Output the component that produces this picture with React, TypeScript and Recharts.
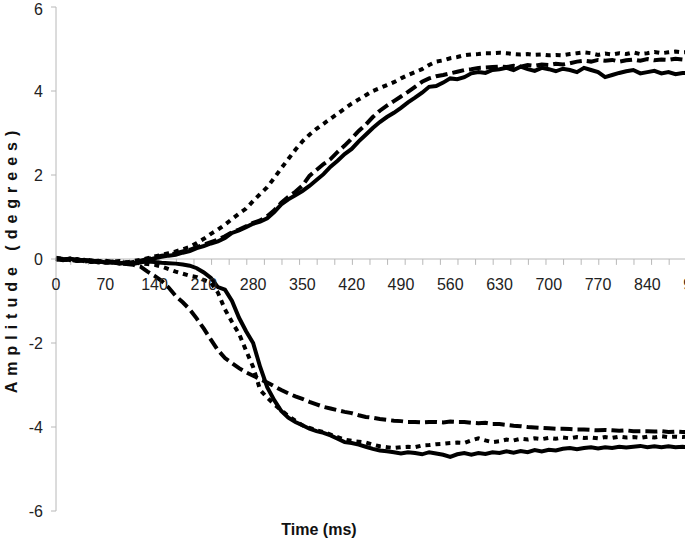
import React from "react";
import { LineChart, Line, XAxis, YAxis, ReferenceLine } from "recharts";

// time in ms, one sample every 10 ms
const times = Array.from({ length: 91 }, (_, i) => i * 10);

const upSolid = [
  0, -0.02, 0.01, -0.04, -0.03, -0.06, -0.04, -0.08, -0.06, -0.1,
  -0.08, -0.1, -0.06, -0.02, 0.02, 0.05, 0.08, 0.1, 0.15, 0.19,
  0.26, 0.31, 0.37, 0.42, 0.5, 0.62, 0.68, 0.76, 0.84, 0.89,
  0.97, 1.12, 1.3, 1.42, 1.52, 1.62, 1.74, 1.88, 2.02, 2.2,
  2.34, 2.5, 2.62, 2.8, 2.96, 3.12, 3.26, 3.38, 3.48, 3.6,
  3.73, 3.84, 3.96, 4.1, 4.12, 4.2, 4.3, 4.28, 4.33, 4.42,
  4.45, 4.43, 4.5, 4.52, 4.55, 4.5, 4.58, 4.52, 4.48, 4.55,
  4.52, 4.47, 4.53, 4.5, 4.45, 4.55, 4.5, 4.45, 4.33, 4.38,
  4.43, 4.47, 4.5, 4.42, 4.45, 4.48, 4.42, 4.45, 4.4, 4.43,
  4.42,
];

const upDashed = [
  0.02, -0.01, -0.03, 0, -0.05, -0.03, -0.07, -0.05, -0.09, -0.06,
  -0.1, -0.07, -0.04, 0, 0.04, 0.08, 0.1, 0.14, 0.18, 0.22,
  0.28, 0.34, 0.4, 0.46, 0.54, 0.64, 0.7, 0.78, 0.86, 0.92,
  1.02, 1.16, 1.34, 1.48, 1.6, 1.75, 1.98, 2.12, 2.26, 2.38,
  2.55, 2.7, 2.87, 3.05, 3.2, 3.38, 3.53, 3.65, 3.76, 3.87,
  3.98, 4.1, 4.22, 4.3, 4.35, 4.38, 4.42, 4.46, 4.5, 4.52,
  4.55, 4.56, 4.57, 4.58, 4.57, 4.6, 4.58, 4.62, 4.6, 4.63,
  4.62, 4.65, 4.63, 4.66, 4.7, 4.72, 4.7, 4.74, 4.72, 4.74,
  4.7, 4.73, 4.75, 4.72, 4.76, 4.73, 4.75, 4.74, 4.77, 4.75,
  4.76,
];

const upDotted = [
  0, 0.02, -0.02, -0.01, -0.04, -0.02, -0.06, -0.04, -0.07, -0.05,
  -0.08, -0.05, -0.02, 0.02, 0.06, 0.1, 0.14, 0.18, 0.23, 0.29,
  0.38, 0.48, 0.6, 0.7, 0.82, 0.95, 1.08, 1.2, 1.38, 1.55,
  1.71, 1.93, 2.16, 2.38, 2.6, 2.8, 2.96, 3.1, 3.22, 3.34,
  3.46, 3.58, 3.7, 3.8, 3.9, 4.0, 4.07, 4.14, 4.21, 4.3,
  4.38, 4.45, 4.52, 4.62, 4.7, 4.73, 4.78, 4.81, 4.85, 4.87,
  4.88, 4.9, 4.9, 4.91, 4.9, 4.88, 4.87, 4.88, 4.86, 4.87,
  4.85, 4.86, 4.85, 4.88, 4.9, 4.92, 4.9, 4.86, 4.89, 4.87,
  4.9, 4.88, 4.92, 4.88, 4.9, 4.93, 4.9, 4.92, 4.94, 4.92,
  4.93,
];

const downSolid = [
  0, -0.03, 0.01, -0.04, -0.02, -0.07, -0.05, -0.09, -0.07, -0.11,
  -0.09, -0.12, -0.08, -0.06, -0.07, -0.09, -0.1, -0.11, -0.13, -0.16,
  -0.22, -0.32, -0.45, -0.67, -0.73, -1.0, -1.4, -1.72, -2.0, -2.57,
  -3.05, -3.36, -3.62, -3.78, -3.88, -3.96, -4.04, -4.1, -4.14, -4.2,
  -4.28, -4.36, -4.38, -4.42, -4.47, -4.52, -4.56, -4.58, -4.6, -4.63,
  -4.6, -4.62, -4.65, -4.6, -4.63, -4.66, -4.71, -4.65, -4.62, -4.66,
  -4.62, -4.64, -4.6, -4.62, -4.58, -4.61, -4.57, -4.6, -4.55, -4.58,
  -4.54, -4.56, -4.52, -4.5, -4.53, -4.5, -4.48, -4.51, -4.48, -4.5,
  -4.47, -4.49, -4.47, -4.45, -4.48, -4.46, -4.48, -4.46, -4.48, -4.47,
  -4.49,
];

const downDashed = [
  0.03, 0, -0.02, -0.05, -0.03, -0.07, -0.05, -0.09, -0.07, -0.1,
  -0.12, -0.14, -0.18, -0.3, -0.4, -0.52, -0.68, -0.88, -1.03, -1.2,
  -1.42, -1.66, -1.92, -2.17, -2.36, -2.48, -2.6, -2.7, -2.78, -2.86,
  -2.94, -3.03, -3.12, -3.2, -3.27, -3.33, -3.4, -3.46, -3.52, -3.56,
  -3.6, -3.64, -3.67, -3.72, -3.76, -3.78, -3.81, -3.83, -3.85, -3.86,
  -3.88, -3.88, -3.89, -3.88, -3.88, -3.89, -3.87, -3.88, -3.88, -3.9,
  -3.91, -3.9, -3.93, -3.93, -3.95, -3.97, -3.98, -4.0, -4.01, -4.02,
  -4.03, -4.04, -4.04, -4.05, -4.06, -4.06, -4.07, -4.08, -4.07, -4.08,
  -4.09, -4.08, -4.1, -4.1, -4.1, -4.11, -4.1, -4.12, -4.11, -4.12,
  -4.12,
];

const downDotted = [
  -0.02, 0.02, -0.03, -0.01, -0.06, -0.04, -0.08, -0.06, -0.1, -0.08,
  -0.11, -0.09, -0.1, -0.12, -0.14, -0.18, -0.24, -0.3, -0.35, -0.4,
  -0.43, -0.5, -0.56, -0.8, -1.2, -1.5, -1.78, -2.18, -2.57, -3.12,
  -3.3, -3.46, -3.6, -3.74, -3.85, -3.96, -4.02, -4.08, -4.12, -4.18,
  -4.24, -4.3, -4.33, -4.35, -4.37, -4.42, -4.46, -4.48, -4.5, -4.48,
  -4.47, -4.48, -4.44, -4.43, -4.41, -4.4, -4.38, -4.37, -4.38, -4.32,
  -4.27, -4.32, -4.36, -4.34, -4.3, -4.32, -4.28, -4.3, -4.27, -4.29,
  -4.26, -4.28, -4.25, -4.27, -4.24, -4.26, -4.25, -4.27, -4.24, -4.26,
  -4.23, -4.25, -4.24, -4.26, -4.23, -4.25, -4.22, -4.24, -4.23, -4.24,
  -4.22,
];

const xLabels = [0, 70, 140, 210, 280, 350, 420, 490, 560, 630, 700, 770, 840, 910];
const xMinor = Array.from({ length: 40 }, (_, i) => 21 + i * 25);
const yTicks = [-6, -4, -2, 0, 2, 4, 6];

const data = times.map((t, i) => ({
  t,
  upSolid: upSolid[i],
  upDashed: upDashed[i],
  upDotted: upDotted[i],
  downSolid: downSolid[i],
  downDashed: downDashed[i],
  downDotted: downDotted[i],
}));

const FONT = "'Liberation Sans', Arial, sans-serif";
const AXIS = "#b8b8b8";
const TOP = 7;
const PLOT_H = 504;
const ZERO_Y = TOP + PLOT_H / 2;
const MARK_LEN = 0.14; // tick mark length, in degrees below the zero line

// labels every 70 ms, hung under the zero line
const renderXLabel = (props: any) => {
  const { x, payload } = props;
  return (
    <text x={x} y={ZERO_Y + 31} textAnchor="middle" fontSize={16} fontFamily={FONT} fill="#222">
      {payload.value}
    </text>
  );
};

const lineProps = {
  type: "linear" as const,
  stroke: "#000",
  strokeWidth: 4,
  dot: false,
  activeDot: false,
  isAnimationActive: false,
};

export default function App() {
  return (
    <div style={{ position: "absolute", left: 0, top: 0, width: 685, height: 549, overflow: "hidden", background: "#fff" }}>
      <LineChart width={780} height={549} data={data} margin={{ top: TOP, right: 20, bottom: 28, left: 0 }}>
        <XAxis
          dataKey="t"
          type="number"
          domain={[0, 1000]}
          ticks={xLabels}
          interval={0}
          height={10}
          axisLine={false}
          tickLine={false}
          tick={renderXLabel}
        />
        <YAxis
          domain={[-6, 6]}
          ticks={yTicks}
          width={56}
          axisLine={{ stroke: AXIS }}
          tickLine={{ stroke: AXIS }}
          tickSize={5}
          tickMargin={8}
          tick={{ fontSize: 16, fontFamily: FONT, fill: "#222" }}
        />
        <ReferenceLine y={0} stroke={AXIS} />
        {xMinor.map((m) => (
          <ReferenceLine
            key={m}
            segment={[
              { x: m, y: 0 },
              { x: m, y: -MARK_LEN },
            ]}
            stroke={AXIS}
          />
        ))}
        <Line dataKey="upSolid" {...lineProps} />
        <Line dataKey="upDashed" {...lineProps} strokeDasharray="12 5" />
        <Line dataKey="upDotted" {...lineProps} strokeDasharray="5 5" />
        <Line dataKey="downSolid" {...lineProps} />
        <Line dataKey="downDashed" {...lineProps} strokeDasharray="12 5" />
        <Line dataKey="downDotted" {...lineProps} strokeDasharray="5 5" />
      </LineChart>
      <div
        style={{
          position: "absolute",
          left: 12,
          top: ZERO_Y,
          transform: "translate(-50%, -50%) rotate(-90deg)",
          whiteSpace: "nowrap",
          fontFamily: FONT,
          fontWeight: "bold",
          fontSize: 16,
          letterSpacing: 6,
          color: "#111",
        }}
      >
        Amplitude (degrees)
      </div>
      <div
        style={{
          position: "absolute",
          left: 319,
          top: 530,
          transform: "translate(-50%, -50%)",
          whiteSpace: "nowrap",
          fontFamily: FONT,
          fontWeight: "bold",
          fontSize: 16,
          color: "#111",
        }}
      >
        Time (ms)
      </div>
    </div>
  );
}
